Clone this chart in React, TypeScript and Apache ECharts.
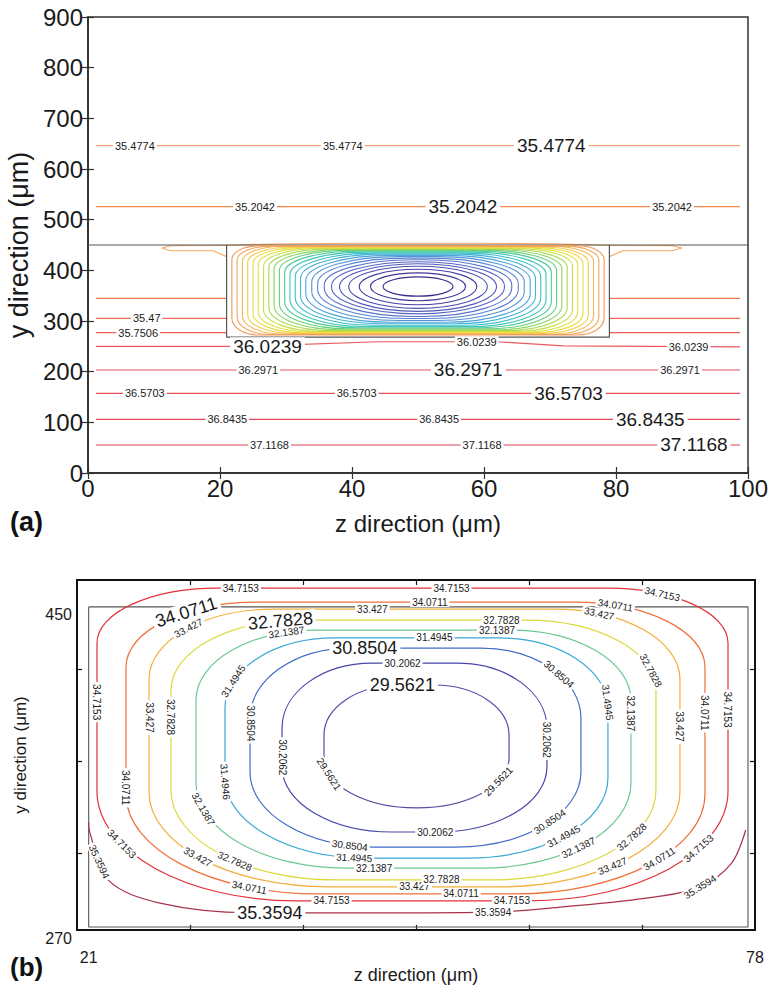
import React, { useEffect, useRef } from "react";
import * as echarts from "echarts";

const FONT = "'Liberation Sans', Arial, Helvetica, sans-serif";

// ================= Panel (a) =================
// full-width horizontal isotherms (outside the channel)
const A_H_LEVELS = ["35.4774", "35.2042", "36.2971", "36.5703", "36.8435", "37.1168"];
const A_H_Y = [646, 525.6, 203.3, 157.3, 106, 55.3];
const A_H_Z = [1.2, 98.8];
// short isotherms on both sides of the channel
const A_SIDE_Y = [344.7, 305, 277];
const A_SIDE_LEFT_Z = [1.2, 21];
const A_SIDE_RIGHT_Z = [79, 98.8];
// 36.0239 isotherm, dipping below the channel
const A_C36_Z = [1.2, 22, 28, 44, 62, 72, 98.8];
const A_C36_Y = [250, 250, 252, 259, 259, 251, 249];
// shoulder isotherm around the top of the channel
const A_SH_UP_Z = [11.2, 12.5, 20, 28, 40, 60, 72, 80, 88.5, 90];
const A_SH_UP_Y = [444, 448.5, 449, 452, 453.5, 453.5, 452, 449, 448.5, 444];
const A_SH_LL_Z = [11.2, 12.5, 19, 21];
const A_SH_LL_Y = [444, 438.7, 438.7, 427];
const A_SH_LR_Z = [79, 81, 88.5, 90];
const A_SH_LR_Y = [427, 438.7, 438.7, 444];
// channel outline
const A_WALL_Y = 450;
const A_BOX_Z = [21, 21, 79, 79];
const A_BOX_Y = [450, 268, 268, 450];
// closed isotherms inside the channel (inner -> outer)
const A_IN_L = [44.7, 42.8, 41.1, 39.5, 38.1, 36.9, 35.8, 34.8, 33.9, 33.0, 32.2, 31.4, 30.6, 29.8, 29.0, 28.2, 27.4, 26.6, 25.8, 25.0, 24.2, 23.4, 22.6, 21.8];
const A_IN_R = [55.3, 57.2, 58.9, 60.5, 61.9, 63.1, 64.2, 65.2, 66.1, 67.0, 67.8, 68.6, 69.4, 70.2, 71.0, 71.8, 72.6, 73.4, 74.2, 75.0, 75.8, 76.6, 77.4, 78.2];
const A_IN_T = [387, 395, 402, 408, 413, 417, 421, 424, 427, 429.5, 432, 434, 436, 437.8, 439.4, 440.8, 442, 443.2, 444.3, 445.3, 446.2, 447, 447.7, 448.4];
const A_IN_B = [349, 340, 332, 325, 319, 314, 309, 305, 301, 297.5, 294.5, 291.5, 289, 286.7, 284.6, 282.7, 281, 279.4, 278, 276.7, 275.5, 274.4, 273.4, 272.5];
const A_IN_CZ = [5.3, 7.2, 8.9, 10.5, 11.9, 13.1, 13.5, 13.5, 13.2, 12.8, 12.4, 12.0, 11.5, 11.0, 10.5, 10.0, 9.4, 8.8, 8.2, 7.5, 6.8, 6.0, 5.0, 4.0];
const A_IN_TY = [19, 27, 34, 40, 45, 48, 50, 50, 50, 49.5, 48, 46, 44, 41.8, 39.4, 37.8, 36, 34.2, 32.3, 31.3, 30.2, 29, 27.7, 27.4];
const A_IN_BY = [19, 28, 36, 43, 49, 53, 56, 57, 57, 56.5, 55.5, 54.5, 53, 51.3, 49.4, 47.3, 45, 42.6, 40, 38.3, 36.5, 35.6, 34.6, 33.5];
const A_IN_COLORS = ["#3b2e8c", "#40359a", "#4640a6", "#4c4cb2", "#5258bb", "#5665c4", "#5874cb", "#5884d1", "#5594d5", "#4ea4d8", "#45b3d6", "#3fbfcc", "#40c7b6", "#4dcb9a", "#68cf7c", "#88d462", "#a8da4e", "#c6df42", "#dde23e", "#ecdc40", "#f2cc48", "#f4b955", "#f3a75c", "#f19a5a"];
// contour labels of panel (a)
const A_LB_TEXT = ["35.4774", "35.4774", "35.4774", "35.2042", "35.2042", "35.2042", "35.47", "35.7506", "36.0239", "36.0239", "36.0239", "36.2971", "36.2971", "36.2971", "36.5703", "36.5703", "36.5703", "36.8435", "36.8435", "36.8435", "37.1168", "37.1168", "37.1168"];
const A_LB_Z = [7.1, 38.6, 70.2, 25.3, 56.8, 88.5, 8.9, 7.6, 27.2, 58.9, 91, 25.8, 57.6, 89.7, 8.6, 40.7, 72.8, 21.1, 53.2, 85.2, 27.5, 59.7, 91.8];
const A_LB_Y = [646, 646, 646, 525.6, 525.6, 525.6, 305, 277, 249, 259, 249, 203.3, 203.3, 203.3, 157.3, 157.3, 157.3, 106, 106, 106, 55.3, 55.3, 55.3];
const A_LB_BIG = [0, 0, 1, 0, 1, 0, 0, 0, 1, 0, 0, 0, 1, 0, 0, 0, 1, 0, 0, 1, 0, 0, 1];

// ================= Panel (b) =================
const B_LEVELS = ["34.7153", "34.0711", "33.427", "32.7828", "32.1387", "31.4945", "30.8504", "30.2062", "29.5621"];
const B_L = [21.71, 24.19, 26.16, 28.04, 30.18, 32.66, 34.8, 37.54, 41.13];
const B_R = [75.69, 73.72, 71.58, 69.53, 67.39, 65.42, 63.11, 60.2, 56.96];
const B_T = [460.5, 452.7, 448.8, 442.7, 437.1, 432.7, 427.1, 418.7, 406.5];
const B_B = [286.2, 290.1, 294.0, 297.9, 304.5, 310.1, 316.2, 324.6, 338.0];
const B_TCZ = [10.3, 11.1, 10.7, 11.1, 10.3, 9.4, 8.6, 7.7, 6.4];
const B_TCY = [30.6, 36.2, 39, 39, 39, 39, 39, 36.2, 27.9];
const B_BCZ = [17.1, 16.3, 15.4, 14.1, 12.8, 12.0, 10.7, 9.4, 7.9];
const B_BCY = [61.3, 55.7, 52.9, 50.1, 47.4, 44.6, 41.8, 36.2, 27.9];
const B_COLORS = ["#e3303a", "#f0703c", "#f4ae3a", "#dcd83a", "#6cc890", "#3aa8d8", "#3f6cc8", "#4646a8", "#5a4aa6"];
// open 35.3594 isotherm near the bottom
const B_OUT_LEVEL = "35.3594";
const B_OUT_Z = [21.0, 21.11, 22.65, 27.1, 34.8, 42.5, 55.6, 61.8, 69.5, 73.3, 76.0, 77.2];
const B_OUT_Y = [330, 324, 297.9, 285, 279.6, 279.5, 280, 283, 288.5, 294, 307.3, 325.7];
const B_OUT_LB_Z = [36.5, 55.6, 21.9, 73.3];
const B_OUT_LB_Y = [279.6, 280, 308, 294];
const B_OUT_LB_ROT = [0, 0, -65, 32];
const B_OUT_LB_BIG = [1, 0, 0, 0];
// inner channel box
const B_BOX_Z = [21, 77.4, 77.4, 21, 21];
const B_BOX_Y = [450, 450, 271.7, 271.7, 450];
// labels on the closed contours: contour, segment (0 top,1 tr,2 right,3 br,4 bottom,5 bl,6 left,7 tl), position
const B_LB_C = [0, 0, 0, 0, 0, 0, 0, 0, 0, 1, 1, 1, 1, 1, 1, 1, 1, 2, 2, 2, 2, 2, 2, 2, 2, 3, 3, 3, 3, 3, 3, 3, 4, 4, 4, 4, 4, 4, 5, 5, 5, 5, 5, 5, 6, 6, 6, 6, 6, 7, 7, 7, 7, 8, 8, 8];
const B_LB_SEG = [0, 0, 1, 2, 3, 4, 4, 5, 6, 7, 0, 1, 2, 3, 4, 5, 6, 7, 0, 1, 2, 3, 4, 5, 6, 7, 0, 1, 3, 4, 5, 6, 7, 0, 2, 3, 4, 5, 0, 7, 1, 3, 5, 5, 0, 6, 1, 3, 5, 0, 4, 6, 2, 0, 5, 3];
const B_LB_T = [0.06, 0.6, 0.3, 0.45, 0.35, 0.07, 0.85, 0.68, 0.6, 0.64, 0.545, 0.2, 0.36, 0.45, 0.27, 0.23, 0.05, 0.52, 0.35, 0.23, 0.42, 0.57, 0.5, 0.52, 0.66, 0.9, 0.89, 0.82, 0.35, 0.32, 0.42, 0.73, 0.84, 0.93, 0.16, 0.55, 0.79, 0.8, 0.61, 0.25, 0.95, 0.52, 0.05, 0.97, 0.11, 0.9, 0.57, 0.46, 0.13, 0.36, 0.04, 0.25, 0.3, 0.1, 0.79, 0.31];
const B_LB_BIG = [0, 0, 0, 0, 0, 0, 0, 0, 0, 1, 0, 0, 0, 0, 0, 0, 0, 0, 0, 0, 0, 0, 0, 0, 0, 1, 0, 0, 0, 0, 0, 0, 0, 0, 0, 0, 0, 0, 0, 0, 0, 0, 0, 0, 1, 0, 0, 0, 0, 0, 0, 0, 0, 1, 0, 0];
const B_LB_TEXT_OVERRIDE: Record<number, string> = { 43: "31.4946" };

const K = 0.5523;

function rrPath(g: any) {
  const { xl, xr, yt, yb, tx, ty, bx, by } = g;
  const f = (n: number) => n.toFixed(2);
  return [
    `M${f(xl + tx)} ${f(yt)}`,
    `L${f(xr - tx)} ${f(yt)}`,
    `C${f(xr - tx + K * tx)} ${f(yt)} ${f(xr)} ${f(yt + ty - K * ty)} ${f(xr)} ${f(yt + ty)}`,
    `L${f(xr)} ${f(yb - by)}`,
    `C${f(xr)} ${f(yb - by + K * by)} ${f(xr - bx + K * bx)} ${f(yb)} ${f(xr - bx)} ${f(yb)}`,
    `L${f(xl + bx)} ${f(yb)}`,
    `C${f(xl + bx - K * bx)} ${f(yb)} ${f(xl)} ${f(yb - by + K * by)} ${f(xl)} ${f(yb - by)}`,
    `L${f(xl)} ${f(yt + ty)}`,
    `C${f(xl)} ${f(yt + ty - K * ty)} ${f(xl + tx - K * tx)} ${f(yt)} ${f(xl + tx)} ${f(yt)}`,
    "Z",
  ].join(" ");
}

function geom(api: any, L: number, R: number, T: number, B: number, tcz: number, tcy: number, bcz: number, bcy: number) {
  const p1 = api.coord([L, T]);
  const p2 = api.coord([R, B]);
  const s1 = api.size([tcz, tcy]);
  const s2 = api.size([bcz, bcy]);
  return { xl: p1[0], yt: p1[1], xr: p2[0], yb: p2[1], tx: s1[0], ty: s1[1], bx: s2[0], by: s2[1] };
}

function pointOn(g: any, seg: number, t: number) {
  const ph = (t * Math.PI) / 2;
  const { xl, xr, yt, yb, tx, ty, bx, by } = g;
  let x = 0, y = 0, dx = 1, dy = 0;
  if (seg === 0) { x = xl + tx + t * (xr - tx - (xl + tx)); y = yt; dx = 1; dy = 0; }
  else if (seg === 1) { const cx = xr - tx, cy = yt + ty; x = cx + tx * Math.sin(ph); y = cy - ty * Math.cos(ph); dx = tx * Math.cos(ph); dy = ty * Math.sin(ph); }
  else if (seg === 2) { x = xr; y = yt + ty + t * (yb - by - (yt + ty)); dx = 0; dy = 1; }
  else if (seg === 3) { const cx = xr - bx, cy = yb - by; x = cx + bx * Math.cos(ph); y = cy + by * Math.sin(ph); dx = -bx * Math.sin(ph); dy = by * Math.cos(ph); }
  else if (seg === 4) { x = xr - bx - t * (xr - bx - (xl + bx)); y = yb; dx = -1; dy = 0; }
  else if (seg === 5) { const cx = xl + bx, cy = yb - by; x = cx - bx * Math.sin(ph); y = cy + by * Math.cos(ph); dx = -bx * Math.cos(ph); dy = -by * Math.sin(ph); }
  else if (seg === 6) { x = xl; y = yb - by - t * (yb - by - (yt + ty)); dx = 0; dy = -1; }
  else { const cx = xl + tx, cy = yt + ty; x = cx - tx * Math.cos(ph); y = cy - ty * Math.sin(ph); dx = tx * Math.sin(ph); dy = -ty * Math.cos(ph); }
  return { x, y, dx, dy };
}

function normAngle(a: number) {
  while (a >= Math.PI / 2 - 1e-6) a -= Math.PI;
  while (a < -Math.PI / 2 - 1e-6) a += Math.PI;
  return a;
}

function textEl(x: number, y: number, rot: number, text: string, size: number) {
  return {
    type: "text",
    x,
    y,
    rotation: rot,
    style: {
      text,
      fill: "#1a1a1a",
      fontSize: size,
      fontFamily: FONT,
      align: "center",
      verticalAlign: "middle",
      textAlign: "center",
      textVerticalAlign: "middle",
      backgroundColor: "#ffffff",
      padding: size > 12 ? [0, 3] : [0, 2],
    },
  };
}

function lineSeries(data: number[][], color: string, xi: number, yi: number, width = 1.2, smooth: number | boolean = false) {
  return {
    type: "line",
    xAxisIndex: xi,
    yAxisIndex: yi,
    data,
    showSymbol: false,
    symbol: "none",
    smooth,
    silent: true,
    z: 2,
    lineStyle: { color, width },
  };
}

function zip(a: number[], b: number[]) {
  return a.map((v, i) => [v, b[i]]);
}

function buildOption() {
  const axisLineA = { show: true, lineStyle: { color: "#333", width: 1.5 } };
  const axisLineB = { show: true, lineStyle: { color: "#111", width: 2 } };
  const series: any[] = [];

  // ---- panel (a) lines
  const hColors = ["#f4a27c", "#f2884e", "#e9525c", "#e7505a", "#e24a58", "#dc4452"];
  A_H_Y.forEach((y, i) => series.push(lineSeries([[A_H_Z[0], y], [A_H_Z[1], y]], hColors[i], 0, 0)));
  const sideColors = ["#f07a4e", "#ef6a52", "#ea5c58"];
  A_SIDE_Y.forEach((y, i) => {
    series.push(lineSeries([[A_SIDE_LEFT_Z[0], y], [A_SIDE_LEFT_Z[1], y]], sideColors[i], 0, 0));
    series.push(lineSeries([[A_SIDE_RIGHT_Z[0], y], [A_SIDE_RIGHT_Z[1], y]], sideColors[i], 0, 0));
  });
  series.push(lineSeries(zip(A_C36_Z, A_C36_Y), "#ea5a5e", 0, 0));
  series.push(lineSeries(zip(A_SH_UP_Z, A_SH_UP_Y), "#f5a962", 0, 0));
  series.push(lineSeries(zip(A_SH_LL_Z, A_SH_LL_Y), "#f5a962", 0, 0));
  series.push(lineSeries(zip(A_SH_LR_Z, A_SH_LR_Y), "#f5a962", 0, 0));
  series.push(lineSeries([[0, A_WALL_Y], [100, A_WALL_Y]], "#555", 0, 0, 1.2));
  series.push(lineSeries(zip(A_BOX_Z, A_BOX_Y), "#555", 0, 0, 1.2));

  series.push({
    type: "custom",
    xAxisIndex: 0,
    yAxisIndex: 0,
    silent: true,
    z: 3,
    data: A_IN_L.map((l, i) => [l, A_IN_T[i]]),
    renderItem: (params: any, api: any) => {
      const i = params.dataIndex;
      const g = geom(api, A_IN_L[i], A_IN_R[i], A_IN_T[i], A_IN_B[i], A_IN_CZ[i], A_IN_TY[i], A_IN_CZ[i], A_IN_BY[i]);
      return { type: "path", shape: { pathData: rrPath(g) }, style: { stroke: A_IN_COLORS[i], fill: "none", lineWidth: 1.1 } };
    },
  });

  series.push({
    type: "custom",
    xAxisIndex: 0,
    yAxisIndex: 0,
    silent: true,
    z: 6,
    data: A_LB_Z.map((z, i) => [z, A_LB_Y[i]]),
    renderItem: (params: any, api: any) => {
      const i = params.dataIndex;
      const p = api.coord([A_LB_Z[i], A_LB_Y[i]]);
      return textEl(p[0], p[1], 0, A_LB_TEXT[i], A_LB_BIG[i] ? 19 : 11);
    },
  });

  // ---- panel (b)
  series.push(lineSeries(zip(B_BOX_Z, B_BOX_Y), "#555", 2, 2, 1.1));
  series.push({
    type: "custom",
    xAxisIndex: 2,
    yAxisIndex: 2,
    silent: true,
    z: 3,
    data: B_L.map((l, i) => [l, B_T[i]]),
    renderItem: (params: any, api: any) => {
      const i = params.dataIndex;
      const g = geom(api, B_L[i], B_R[i], B_T[i], B_B[i], B_TCZ[i], B_TCY[i], B_BCZ[i], B_BCY[i]);
      return { type: "path", shape: { pathData: rrPath(g) }, style: { stroke: B_COLORS[i], fill: "none", lineWidth: 1.2 } };
    },
  });
  series.push(lineSeries(zip(B_OUT_Z, B_OUT_Y), "#a8304a", 2, 2, 1.2, 0.35));

  series.push({
    type: "custom",
    xAxisIndex: 2,
    yAxisIndex: 2,
    silent: true,
    z: 6,
    data: B_LB_C.map((c) => [B_L[c], B_T[c]]),
    renderItem: (params: any, api: any) => {
      const j = params.dataIndex;
      const c = B_LB_C[j];
      const g = geom(api, B_L[c], B_R[c], B_T[c], B_B[c], B_TCZ[c], B_TCY[c], B_BCZ[c], B_BCY[c]);
      const p = pointOn(g, B_LB_SEG[j], B_LB_T[j]);
      const ang = normAngle(Math.atan2(-p.dy, p.dx));
      const txt = B_LB_TEXT_OVERRIDE[j] || B_LEVELS[c];
      return textEl(p.x, p.y, ang, txt, B_LB_BIG[j] ? 18 : 10);
    },
  });
  series.push({
    type: "custom",
    xAxisIndex: 2,
    yAxisIndex: 2,
    silent: true,
    z: 6,
    data: B_OUT_LB_Z.map((z, i) => [z, B_OUT_LB_Y[i]]),
    renderItem: (params: any, api: any) => {
      const i = params.dataIndex;
      const p = api.coord([B_OUT_LB_Z[i], B_OUT_LB_Y[i]]);
      return textEl(p[0], p[1], (B_OUT_LB_ROT[i] * Math.PI) / 180, B_OUT_LEVEL, B_OUT_LB_BIG[i] ? 18 : 10);
    },
  });

  const tickA = { show: true, inside: true, length: 6, lineStyle: { color: "#333", width: 1.2 } };
  const tickB = { show: true, inside: true, length: 5, lineStyle: { color: "#111", width: 1.2 } };
  const bXTicks = [29.667, 39.333, 49, 58.667, 68.333];
  const bYTicks = [313, 364, 415];

  return {
    animation: false,
    backgroundColor: "#ffffff",
    textStyle: { fontFamily: FONT },
    grid: [
      { left: 88, top: 17, width: 660, height: 456, show: true, borderColor: "#333", borderWidth: 1.5, backgroundColor: "transparent", containLabel: false, outerBoundsMode: "none" },
      { left: 77, top: 580, width: 678, height: 350, show: true, borderColor: "#111", borderWidth: 2, backgroundColor: "transparent", containLabel: false, outerBoundsMode: "none" },
    ],
    xAxis: [
      {
        gridIndex: 0, type: "value", min: 0, max: 100, interval: 20, position: "bottom",
        axisLine: axisLineA, axisTick: tickA, splitLine: { show: false },
        axisLabel: { fontSize: 24, color: "#1a1a1a", margin: 3, fontFamily: FONT },
        name: "z direction (μm)", nameLocation: "middle", nameGap: 38,
        nameTextStyle: { fontSize: 24, color: "#1a1a1a", fontFamily: FONT },
      },
      {
        gridIndex: 0, type: "value", min: 0, max: 100, interval: 20, position: "top",
        axisLine: axisLineA, axisTick: tickA, splitLine: { show: false }, axisLabel: { show: false },
      },
      {
        gridIndex: 1, type: "value", min: 20, max: 78, position: "bottom",
        axisLine: axisLineB, axisTick: { ...tickB, customValues: bXTicks }, splitLine: { show: false },
        axisLabel: { customValues: [21, 78], fontSize: 16, color: "#1a1a1a", margin: 19, fontFamily: FONT },
        name: "z direction (μm)", nameLocation: "middle", nameGap: 31,
        nameTextStyle: { fontSize: 18, color: "#1a1a1a", fontFamily: FONT },
      },
      {
        gridIndex: 1, type: "value", min: 20, max: 78, position: "top",
        axisLine: axisLineB, axisTick: { ...tickB, customValues: bXTicks }, splitLine: { show: false }, axisLabel: { show: false },
      },
    ],
    yAxis: [
      {
        gridIndex: 0, type: "value", min: 0, max: 900, interval: 100, position: "left",
        axisLine: axisLineA, axisTick: tickA, splitLine: { show: false },
        axisLabel: { fontSize: 24, color: "#1a1a1a", margin: 5, fontFamily: FONT },
        name: "y direction (μm)", nameLocation: "middle", nameGap: 44,
        nameTextStyle: { fontSize: 27, color: "#1a1a1a", fontFamily: FONT },
      },
      {
        gridIndex: 0, type: "value", min: 0, max: 900, interval: 100, position: "right",
        axisLine: axisLineA, axisTick: tickA, splitLine: { show: false }, axisLabel: { show: false },
      },
      {
        gridIndex: 1, type: "value", min: 270, max: 465, position: "left",
        axisLine: axisLineB, axisTick: { ...tickB, customValues: bYTicks }, splitLine: { show: false },
        axisLabel: { customValues: [270, 450], fontSize: 16, color: "#1a1a1a", margin: 5, fontFamily: FONT, verticalAlign: "top", lineHeight: 16 },
        name: "y direction (μm)", nameLocation: "middle", nameGap: 48,
        nameTextStyle: { fontSize: 17, color: "#1a1a1a", fontFamily: FONT },
      },
      {
        gridIndex: 1, type: "value", min: 270, max: 465, position: "right",
        axisLine: axisLineB, axisTick: { ...tickB, customValues: bYTicks }, splitLine: { show: false }, axisLabel: { show: false },
      },
    ],
    graphic: [
      { type: "text", left: 10, top: 508, style: { text: "(a)", fill: "#111", font: `bold 27px ${FONT}` } },
      { type: "text", left: 10, top: 954, style: { text: "(b)", fill: "#111", font: `bold 26px ${FONT}` } },
    ],
    series,
  };
}

export default function App() {
  const ref = useRef<HTMLDivElement>(null);
  useEffect(() => {
    if (!ref.current) return;
    const chart = echarts.init(ref.current, null, { renderer: "svg" });
    chart.setOption(buildOption() as any);
    return () => {
      chart.dispose();
    };
  }, []);
  return (
    <div
      ref={ref}
      style={{ position: "fixed", left: 0, top: 0, width: 770, height: 990, background: "#ffffff" }}
    />
  );
}
